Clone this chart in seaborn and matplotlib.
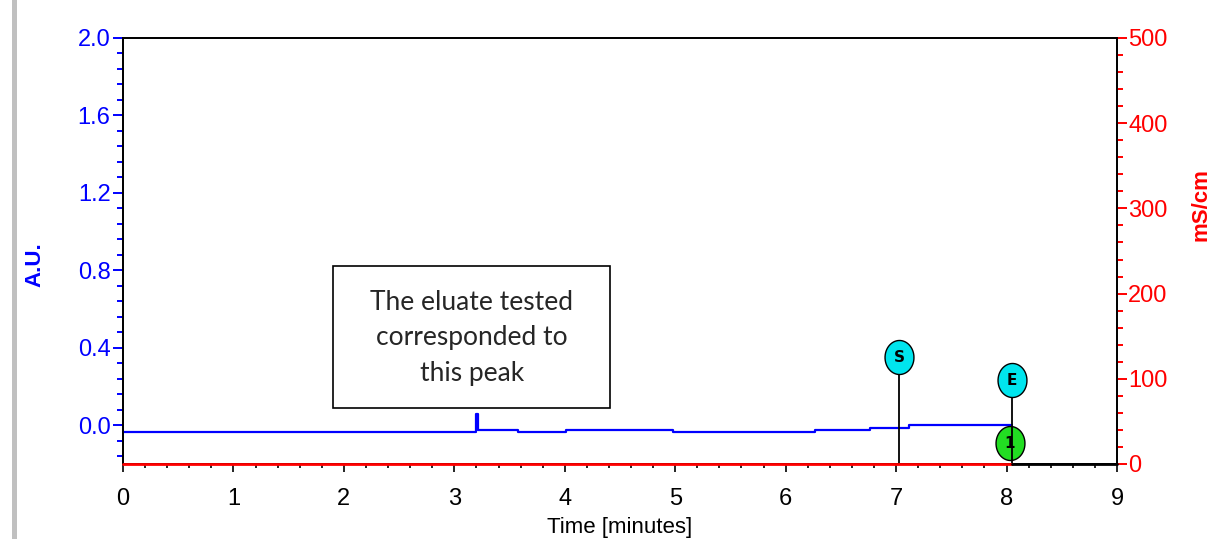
import matplotlib
matplotlib.use('Agg')
import matplotlib.pyplot as plt
import seaborn as sns
import numpy as np
import pandas as pd
from matplotlib.path import Path
from matplotlib.patches import Rectangle
from matplotlib.ticker import MultipleLocator

# UV trace (A.U.), step data
uv_time = [0.0, 3.20, 3.212, 3.58, 4.01, 4.98, 6.27, 6.76, 7.12, 8.05]
uv_value = [-0.036, 0.057, -0.024, -0.036, -0.026, -0.036, -0.024, -0.012, 0.0, 0.0]

# conductivity trace (mS/cm)
cond_time = [0.0, 8.05]
cond_value = [0.0, 0.0]
tail_time = [8.05, 9.0]
tail_value = [0.0, 0.0]

# event markers
mark_labels = ['S', 'E', '1']
mark_time = [7.03, 8.05, 8.03]
mark_level = [0.351, 0.233, -0.093]
mark_colors = ['#00e5ee', '#00e5ee', '#22dd22']

note_text = 'The eluate tested\ncorresponded to\nthis peak'

sns.set_style('white')
plt.rcParams['font.family'] = ['Liberation Sans Narrow', 'Liberation Sans', 'DejaVu Sans']

fig = plt.figure(figsize=(12.14, 5.39), dpi=100)
ax = fig.add_axes([123 / 1214, 75 / 539, 994 / 1214, 426 / 539])
ax2 = ax.twinx()

uv = pd.DataFrame({'t': uv_time, 'v': uv_value})
sns.lineplot(data=uv, x='t', y='v', ax=ax, color='#0000ff', linewidth=1.6,
             drawstyle='steps-post', sort=False, estimator=None, zorder=3)

cond = pd.DataFrame({'t': cond_time, 'v': cond_value})
sns.lineplot(data=cond, x='t', y='v', ax=ax2, color='#ff0000', linewidth=2,
             sort=False, estimator=None, clip_on=False, zorder=3)
tail = pd.DataFrame({'t': tail_time, 'v': tail_value})
sns.lineplot(data=tail, x='t', y='v', ax=ax2, color='black', linewidth=2,
             sort=False, estimator=None, clip_on=False, zorder=3)

ax.set_xlim(0, 9)
ax.set_ylim(-0.2, 2.0)
ax2.set_ylim(0, 500)

# event stems and ellipse badges
th = np.linspace(0, 2 * np.pi, 60)
ellipse = Path(np.column_stack([0.85 * np.cos(th), np.sin(th)]))
for lab, t, lvl, col in zip(mark_labels, mark_time, mark_level, mark_colors):
    if lab != '1':
        ax.plot([t, t], [-0.2, lvl], color='black', linewidth=1.3, zorder=5,
                clip_on=False)
    ax.plot([t], [lvl], marker=ellipse, markersize=24.5, markerfacecolor=col,
            markeredgecolor='black', markeredgewidth=1, linestyle='none',
            zorder=6 if lab != '1' else 4, clip_on=False)
    ax.text(t, lvl, lab, ha='center', va='center', fontsize=11,
            fontweight='bold', color='black', zorder=7,
            family=['DejaVu Sans'])

# annotation box
ax.add_patch(Rectangle((1.902, 0.088), 2.509, 0.734, facecolor='white',
                       edgecolor='black', linewidth=1.2, zorder=8))
ax.text(3.157, 0.452, note_text, ha='center', va='center', fontsize=19,
        family=['Lato', 'DejaVu Sans'], linespacing=1.52, zorder=9)

# axes styling
for a in (ax, ax2):
    for s in a.spines.values():
        s.set_color('black')
        s.set_linewidth(1.3)
ax.set_xlabel('')
ax.set_ylabel('')
ax2.set_ylabel('')

ax.xaxis.set_major_locator(MultipleLocator(1))
ax.xaxis.set_minor_locator(MultipleLocator(0.2))
ax.yaxis.set_minor_locator(MultipleLocator(0.08))
ax.set_yticks([0.0, 0.4, 0.8, 1.2, 1.6, 2.0])
ax.set_yticklabels(['0.0', '0.4', '0.8', '1.2', '1.6', '2.0'])
ax2.yaxis.set_major_locator(MultipleLocator(100))
ax2.yaxis.set_minor_locator(MultipleLocator(20))

ax.tick_params(axis='x', which='major', direction='out', length=6, width=1.2,
               color='black', labelcolor='black', labelsize=17, pad=11,
               bottom=True)
ax.tick_params(axis='x', which='minor', direction='out', length=3, width=1.2,
               color='black', bottom=True)
ax.tick_params(axis='y', which='major', direction='out', length=7, width=1.4,
               color='#0000ff', labelcolor='#0000ff', labelsize=17, pad=2,
               left=True)
ax.tick_params(axis='y', which='minor', direction='out', length=4, width=1.4,
               color='#0000ff', left=True)
ax2.tick_params(axis='y', which='major', direction='out', length=7, width=1.4,
                color='#ff0000', labelcolor='#ff0000', labelsize=17, pad=1,
                right=True)
ax2.tick_params(axis='y', which='minor', direction='out', length=4, width=1.4,
                color='#ff0000', right=True)

# axis titles placed like the instrument export
fig.text(35 / 1214, 1 - 265 / 539, 'A.U.', rotation=90, ha='center',
         va='center', color='#0000ff', fontsize=16, fontweight='bold')
fig.text(1212 / 1214, 1 - 205 / 539, 'mS/cm', rotation=90, ha='right',
         va='center', color='#ff0000', fontsize=16, fontweight='bold')
fig.text(620 / 1214, 1 - 528 / 539, 'Time [minutes]', ha='center',
         va='center', color='black', fontsize=16)

# page border strip on the left
fig.add_artist(Rectangle((12 / 1214, 0), 5 / 1214, 1, transform=fig.transFigure,
                         facecolor='#c0c0c0', edgecolor='none'))

fig.savefig('out.png', dpi=100, facecolor='white')
